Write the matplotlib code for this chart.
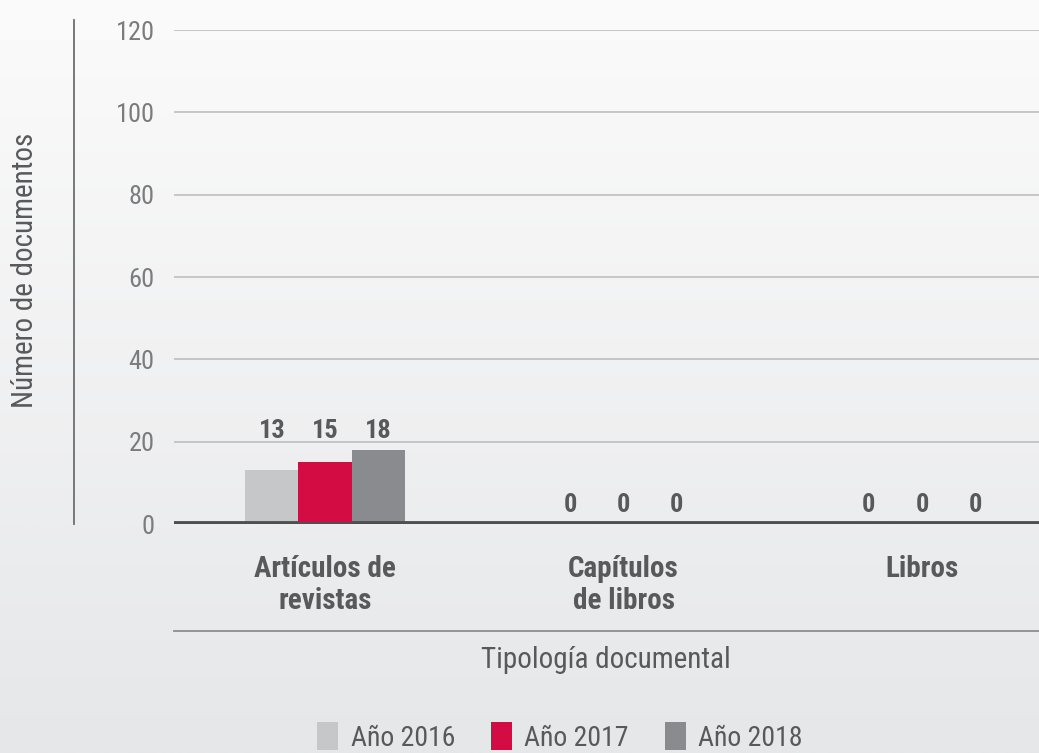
import numpy as np
import matplotlib
matplotlib.use("Agg")
import matplotlib.pyplot as plt
from matplotlib import font_manager
from matplotlib.lines import Line2D
from matplotlib.patches import Patch
from matplotlib.colors import LinearSegmentedColormap

# ==========================================
# DATA
# ==========================================
categories = ["Artículos de\nrevistas", "Capítulos\nde libros", "Libros"]
years = ["Año 2016", "Año 2017", "Año 2018"]
values_2016 = [13, 0, 0]
values_2017 = [15, 0, 0]
values_2018 = [18, 0, 0]
yticks = [0, 20, 40, 60, 80, 100, 120]

colors = ["#c6c7c9", "#d40c44", "#8a8b8e"]
TEXT = "#58595b"
TICK = "#7b7c7e"

# pick a narrow font if one is around
names = {f.name for f in font_manager.fontManager.ttflist}
FONT = "Liberation Sans"
for cand in ["Roboto Condensed", "Liberation Sans Narrow", "Open Sans Condensed", "Roboto", "Liberation Sans"]:
    if cand in names:
        FONT = cand
        break
plt.rcParams["font.family"] = [FONT, "DejaVu Sans"]

W, H = 1039, 753
fig = plt.figure(figsize=(W / 100, H / 100), dpi=100)

# background gradient
bg = fig.add_axes([0, 0, 1, 1], zorder=-10)
grad = np.linspace(0, 1, 256).reshape(-1, 1)
cmap = LinearSegmentedColormap.from_list("bg", ["#fbfbfb", "#e6e7e9"])
bg.imshow(grad, aspect="auto", cmap=cmap, extent=[0, 1, 0, 1], origin="upper")
bg.set_axis_off()

def px(x, y):
    return x / W, 1 - y / H

left, right, top, bottom = 174, 1039, 30, 524
ax = fig.add_axes([left / W, 1 - bottom / H, (right - left) / W, (bottom - top) / H])
ax.patch.set_alpha(0)

x = np.arange(len(categories))
bw = 0.178
series = [values_2016, values_2017, values_2018]
for i, (vals, col) in enumerate(zip(series, colors)):
    ax.bar(x + (i - 1) * bw, vals, width=bw, color=col, zorder=3)

group_max = np.max(np.array(series), axis=0)
for i, vals in enumerate(series):
    for j, v in enumerate(vals):
        ax.text(x[j] + (i - 1) * bw, group_max[j] + 4.6, str(v), ha="center", va="center",
                fontsize=19, fontweight="bold", color=TEXT, zorder=4)

ax.set_ylim(0, 120)
ax.set_xlim(-0.506, 2.392)
ax.set_yticks(yticks)
ax.set_yticklabels([str(t) for t in yticks], fontsize=19, color=TICK)
for t in yticks[1:]:
    ax.axhline(t, color="#b9babc", lw=1.1, zorder=1)
ax.axhline(0, color="#4e4f51", lw=4.2, zorder=5)
ax.tick_params(axis="y", length=0, pad=14)
ax.set_xticks(x)
ax.set_xticklabels(categories, fontsize=21, fontweight="bold", color=TEXT, linespacing=1.22)
ax.tick_params(axis="x", length=0, pad=22)
for s in ax.spines.values():
    s.set_visible(False)

# left vertical rule
fig.add_artist(Line2D([74 / W, 74 / W], [1 - 20 / H, 1 - 524 / H], color="#6d6e70", lw=1.3))
# rule under category labels
fig.add_artist(Line2D([174 / W, 1], [1 - 631 / H, 1 - 631 / H], color="#8c8d8f", lw=1.3))

fig.text(*px(25, 270), "Número de documentos", rotation=90, ha="center", va="center",
         fontsize=21, color=TEXT)
fig.text(*px(606, 660), "Tipología documental", ha="center", va="center",
         fontsize=21, color=TEXT)

handles = [Patch(facecolor=c, edgecolor="none") for c in colors]
fig.legend(handles, years, loc="center", bbox_to_anchor=px(560, 737), ncol=3, frameon=False,
           fontsize=20, labelcolor=TEXT, handlelength=0.75, handleheight=1.15,
           handletextpad=0.45, columnspacing=1.3)

fig.savefig("out.png", dpi=100)
